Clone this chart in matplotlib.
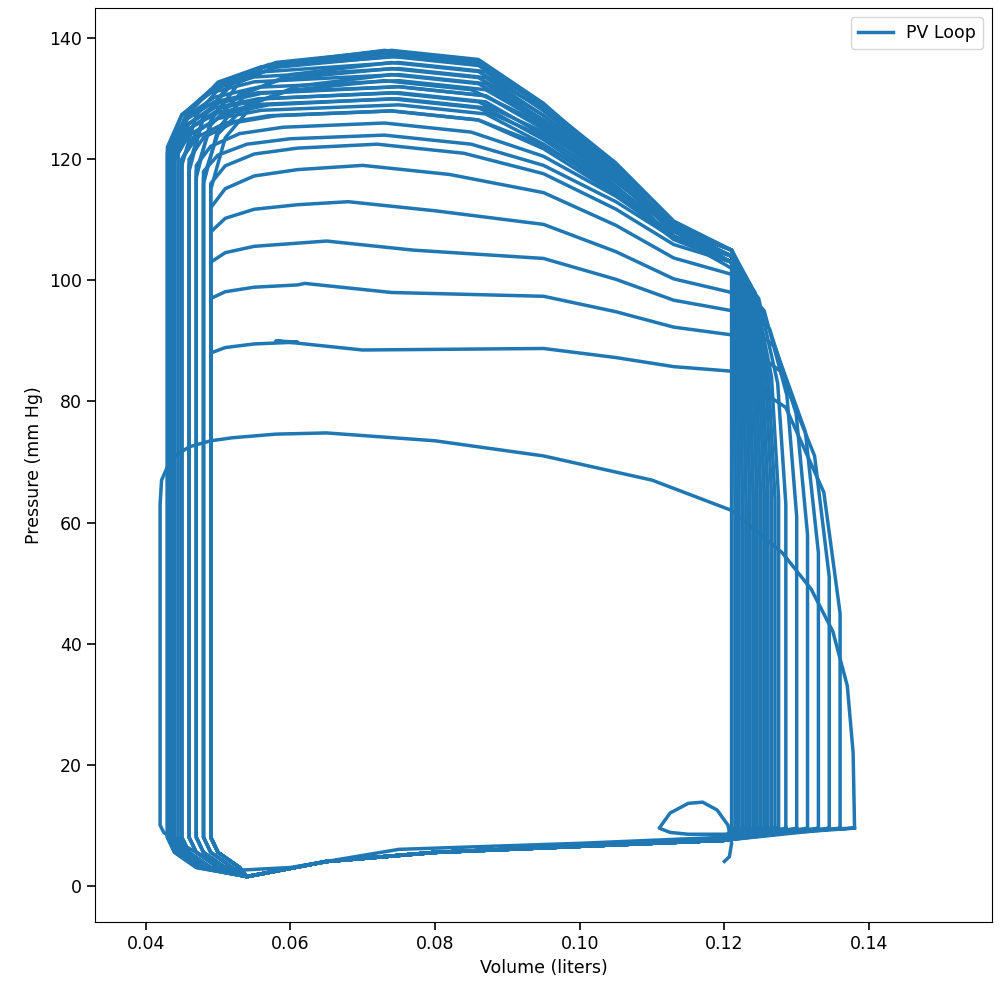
import numpy as np
import matplotlib.pyplot as plt

# per-beat values
# first (start-up) beat, traced by hand
first_v = [0.120, 0.1207, 0.121, 0.1205, 0.119, 0.117, 0.115, 0.1125, 0.111, 0.1125, 0.115, 0.120, 0.124,
           0.132, 0.136, 0.1375, 0.138,
           0.1378, 0.137, 0.135, 0.132, 0.128, 0.121, 0.110, 0.095, 0.080, 0.065, 0.058, 0.052, 0.049,
           0.046, 0.0435, 0.0422, 0.042, 0.042, 0.0425, 0.044, 0.047, 0.052, 0.060, 0.075, 0.100, 0.120, 0.138]
first_p = [4, 4.8, 7, 10, 12.5, 13.8, 13.6, 12, 9.5, 8.8, 8.5, 8.5, 8.8,
           9.2, 9.4, 9.5, 9.5,
           22, 33, 42, 49, 55, 62, 67, 71, 73.5, 74.8, 74.6, 74, 73.5,
           72.5, 70.5, 67, 63, 10, 8.8, 7.5, 5.5, 2.5, 3, 6, 7, 8, 9.5]

# following beats: end-diastolic volume, end-systolic volume, pressure at left corner,
# peak pressure, volume of peak, pressure where top meets x=0.121
edv = [0.136, 0.1345, 0.133, 0.1315, 0.130, 0.1285, 0.1275, 0.127, 0.1265, 0.126,
       0.1255, 0.125, 0.1245, 0.124, 0.1235, 0.123, 0.1225, 0.122, 0.1215, 0.121,
       0.1255, 0.1245, 0.1235, 0.1225, 0.1215, 0.126, 0.125, 0.124, 0.123, 0.122]
esv = [0.049, 0.049, 0.049, 0.049, 0.049, 0.049, 0.048, 0.047, 0.046, 0.045,
       0.0445, 0.044, 0.0435, 0.043, 0.043, 0.0435, 0.044, 0.045, 0.046, 0.047,
       0.048, 0.049, 0.0435, 0.044, 0.045, 0.046, 0.047, 0.048, 0.0435, 0.044]
p_left = [88, 97, 103, 108, 112, 116, 118, 119, 120, 120,
          121, 121, 122, 122, 121, 120, 120, 119, 118, 117,
          116, 115, 122, 121, 120, 119, 118, 117, 121, 120]
p_peak = [90, 99.5, 106.5, 113, 119, 122.5, 124, 126, 128, 130,
          131, 132, 133, 134, 135, 136, 137, 137.5, 138, 138,
          136, 134, 132, 130, 128, 137, 135, 133, 131, 129]
v_peak = [0.058, 0.062, 0.065, 0.068, 0.070, 0.072, 0.073, 0.073, 0.074, 0.074,
          0.074, 0.075, 0.075, 0.075, 0.075, 0.075, 0.075, 0.074, 0.074, 0.073,
          0.074, 0.074, 0.075, 0.075, 0.074, 0.074, 0.074, 0.073, 0.075, 0.075]
p_right = [85, 91, 95, 98, 101, 103, 104, 104, 105, 105,
           105, 105, 105, 104, 104, 104, 103, 103, 103, 102,
           105, 104, 104, 103, 103, 105, 104, 104, 103, 103]

color = '#1f77b4'
fig, ax = plt.subplots(figsize=(10, 10), dpi=100)

ax.plot(first_v, first_p, color=color, lw=2.5, label='PV Loop')
for e, s, pl, pk, vp, pr in zip(edv, esv, p_left, p_peak, v_peak, p_right):
    d = e - 0.121
    top_v = [0.121 + d, 0.121 + d, 0.121 + d * 0.85, 0.121 + d * 0.5, 0.121,
             0.113, 0.105, 0.095, vp + 0.012, vp,
             s + 0.012, s + 0.006, s + 0.002, s]
    top_p = [9.5, pr - 40, pr - 20, pr - 6, pr,
             pr + (pk - pr) * 0.15, pr + (pk - pr) * 0.45, pk - (pk - pr) * 0.25, pk - 1.5, pk,
             pl + (pk - pl) * 0.9, pl + (pk - pl) * 0.75, pl + (pk - pl) * 0.45, pl]
    bot_v = [s, s + 0.001, s + 0.004, 0.054, 0.065, 0.080, 0.100, 0.120, e]
    bot_p = [8, 5.5, 3, 1.5, 4, 5.5, 6.5, 7.5, 9.5]
    ax.plot(top_v + bot_v, top_p + bot_p, color=color, lw=2.5)

ax.set_xlim(0.033, 0.157)
ax.set_ylim(-6, 145)
ax.set_xlabel('Volume (liters)', fontsize=12.5)
ax.set_ylabel('Pressure (mm Hg)', fontsize=12.5)
ax.tick_params(labelsize=12.5, width=1.2, length=6)
ax.legend(loc='upper right', fontsize=12.5)
plt.subplots_adjust(left=0.095, right=0.992, top=0.992, bottom=0.078)
plt.savefig('out.png', dpi=100)
